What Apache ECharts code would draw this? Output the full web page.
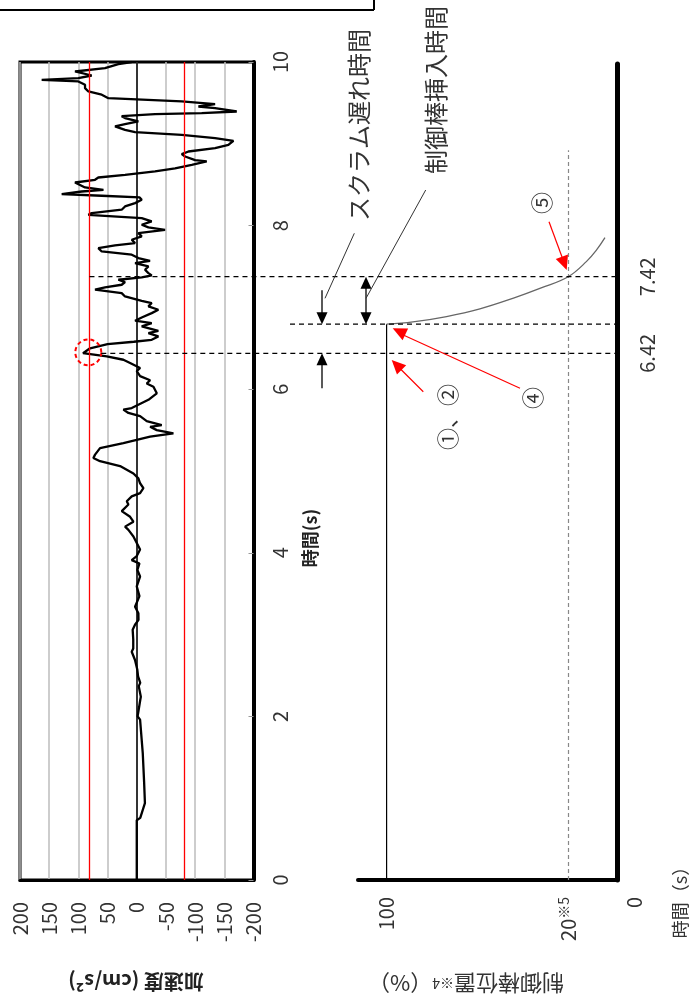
<!DOCTYPE html>
<html><head><meta charset="utf-8">
<script src="https://cdn.jsdelivr.net/npm/echarts@6/dist/echarts.min.js"></script>
<style>html,body{margin:0;padding:0;background:#fff}#c{width:693px;height:999px}</style>
</head><body><div id="c"></div>
<script>
// ---- data ----
// acceleration record: [time (s), acceleration (cm/s2)]
const accelPoints = [[0,0],[0.73,0],[0.76,-6],[0.94,-14],[1.2,-12.6],[1.55,-10.3],[1.96,-5.7],[2.0,-1.5],[2.2,-6],[2.24,-7],[2.37,-3.4],[2.41,-6],[2.49,-2.3],[2.57,-1],[2.69,3],[2.79,8.6],[2.83,6],[2.94,6],[3.06,7],[3.12,3],[3.18,-3],[3.26,-2.8],[3.34,2.9],[3.47,-4.6],[3.59,0],[3.71,-5.7],[3.79,-1.1],[3.87,-4.6],[3.91,8.6],[3.96,0],[4.04,-5.7],[4.12,0],[4.2,5.7],[4.28,14.3],[4.32,20],[4.38,5.7],[4.44,11.4],[4.51,25.7],[4.59,14.3],[4.63,17.1],[4.69,8.6],[4.73,-5.7],[4.79,-11.4],[4.85,-5.7],[4.91,-2.8],[4.97,5.7],[5.06,28.6],[5.12,62.9],[5.16,74.3],[5.2,71.4],[5.28,62.9],[5.34,22.9],[5.42,-22.9],[5.46,-62.8],[5.5,-34.3],[5.54,-22.9],[5.56,-42.8],[5.61,-17.1],[5.67,-5.7],[5.71,14.3],[5.75,22.9],[5.77,8.6],[5.87,-20],[5.95,-34.3],[6.03,-28.6],[6.07,-17.1],[6.11,-22.9],[6.16,-5.7],[6.22,0],[6.26,-5.7],[6.32,11.4],[6.36,22.9],[6.4,51.4],[6.44,92],[6.5,80],[6.55,50],[6.58,5],[6.604,-25.6],[6.645,-37],[6.686,-20],[6.714,-37],[6.767,-8.5],[6.808,-25.6],[6.837,2.9],[6.877,-8.5],[6.93,-25.6],[6.971,-37],[7.012,-20],[7.053,-25.6],[7.081,-8.5],[7.134,20.1],[7.175,25.8],[7.216,71.5],[7.244,54.4],[7.277,25.8],[7.31,20.1],[7.338,31.5],[7.366,-8.5],[7.391,-25.6],[7.419,-20],[7.46,-14.2],[7.501,-20],[7.542,2.9],[7.57,-22.8],[7.603,-2.8],[7.644,8.6],[7.684,60],[7.725,65.8],[7.758,37.2],[7.786,2.9],[7.827,8.6],[7.868,-8.5],[7.908,-2.8],[7.949,-48.5],[7.978,-20],[8.01,-8.5],[8.051,-25.6],[8.092,-8.5],[8.132,82.9],[8.153,77.2],[8.194,25.8],[8.234,20.1],[8.275,2.9],[8.316,-8.5],[8.345,-5],[8.365,60],[8.385,128.6],[8.417,94.3],[8.438,57],[8.466,88.6],[8.527,105.8],[8.56,71.5],[8.588,65.8],[8.621,20.1],[8.662,-31.3],[8.7,-65.6],[8.743,-94.2],[8.784,-119.9],[8.8,-100],[8.845,-82.8],[8.874,-77.1],[8.906,-88.5],[8.947,-134.2],[8.988,-157],[9.037,-165.6],[9.07,-134.2],[9.11,-77.1],[9.143,2.9],[9.17,20.1],[9.212,37.2],[9.24,20.1],[9.273,-2.8],[9.314,20.1],[9.338,25.8],[9.363,-31.3],[9.375,-111.3],[9.395,-171.3],[9.436,-134.2],[9.456,-105.6],[9.485,-134.2],[9.518,-77.1],[9.558,48.6],[9.6,60],[9.64,82.9],[9.68,88.6],[9.721,88.6],[9.762,100],[9.782,162.9],[9.803,100],[9.835,77.2],[9.884,105.8],[9.925,54.4],[9.974,31.5],[10,8.6]];
const accelThresholds = [81, -81];
const accelCircle = [83, 6.45];          // [acc, time] circled peak
// control rod position curve
const rodCurveTime = [6.80, 6.83, 6.90, 7.00, 7.14, 7.27, 7.42, 7.62, 7.77, 7.93];
const rodCurvePos  = [100, 88.4, 73.6, 58.9, 44.1, 32.2, 20, 11.9, 7.5, 3.8];
const rodPosTicks  = [0, 20, 100];
const rodTimeTicks = [6.42, 7.42];
const eventTimes   = [6.42, 6.80, 7.42];  // scram signal, insertion start, 20% reached
const rodGuidePos  = 20;
const rodGuideTop  = 9.07;
const rodTimeMin = -0.456, rodTimeMax = 10.197;

const FONT = "'Noto Sans CJK JP','Noto Sans',sans-serif";
const chart = echarts.init(document.getElementById('c'));
const lbl = {fontSize:20, color:'#333', fontFamily:FONT};

chart.setOption({
  animation:false,
  backgroundColor:'#fff',
  textStyle:{fontFamily:FONT},
  grid:[
    {left:20, top:62, width:233.5, height:818, show:true, borderColor:'#000', borderWidth:3},
    {left:358, top:64, width:259, height:816, show:false}
  ],
  xAxis:[
    {gridIndex:0, type:'value', min:-200, max:200, interval:50, inverse:true, position:'bottom',
     axisLine:{show:true, onZero:false, lineStyle:{color:'#000', width:3}},
     axisTick:{show:false},
     axisLabel:Object.assign({rotate:90, margin:22}, lbl),
     splitLine:{show:true, lineStyle:{color:'#bdbdbd', width:1.5}}},
    {gridIndex:1, type:'value', min:-1.5, max:112.6, inverse:true, position:'bottom',
     axisLine:{show:true, onZero:false, lineStyle:{color:'#000', width:4}},
     axisTick:{show:false}, splitLine:{show:false},
     axisLabel:Object.assign({rotate:90, margin:17, customValues:rodPosTicks,
       formatter:v => v===20 ? '{n|20}{s|※5}' : (v===0 ? '{z|0}' : '{n|'+v+'}'),
       rich:{n:{fontSize:20,color:'#333'}, s:{fontSize:14,color:'#333',padding:[0,0,10,0]}, z:{fontSize:20,color:'#333',padding:[42,0,0,0]}}
     }, lbl)}
  ],
  yAxis:[
    {gridIndex:0, type:'value', min:0, max:10, interval:2, position:'right',
     axisLine:{show:true, onZero:false, lineStyle:{color:'#000', width:4}},
     axisTick:{show:true, inside:true, length:5, lineStyle:{color:'#999'}},
     axisLabel:Object.assign({rotate:90, margin:17}, lbl),
     splitLine:{show:false}},
    {gridIndex:1, type:'value', min:rodTimeMin, max:rodTimeMax, position:'right',
     axisLine:{show:true, onZero:false, lineStyle:{color:'#000', width:5}},
     axisTick:{show:false}, splitLine:{show:false},
     axisLabel:Object.assign({rotate:90, margin:20, customValues:rodTimeTicks, formatter:v=>v.toFixed(2)}, lbl)}
  ],
  series:[
    {type:'line', xAxisIndex:0, yAxisIndex:0, z:2, data:[[0,0]], symbol:'none', lineStyle:{width:0},
     markLine:{silent:true, symbol:['none','none'], label:{show:false},
       data:[
         {xAxis:accelThresholds[0], lineStyle:{color:'#ff0000', width:1.3, type:'solid'}},
         {xAxis:accelThresholds[1], lineStyle:{color:'#ff0000', width:1.3, type:'solid'}},
         {xAxis:0, lineStyle:{color:'#000', width:1.5, type:'solid'}}
       ]}},
    {type:'line', xAxisIndex:0, yAxisIndex:0, z:3, symbol:'none',
     data:accelPoints.map(p=>[p[1], p[0]]), lineStyle:{color:'#000', width:2.3}},
    {type:'line', xAxisIndex:1, yAxisIndex:1, symbol:'none',
     data:[[rodCurvePos[0], rodTimeMin],[rodCurvePos[0], eventTimes[1]]], lineStyle:{color:'#000', width:1.2}},
    {type:'line', xAxisIndex:1, yAxisIndex:1, symbol:'none', smooth:0.4,
     data:rodCurvePos.map((p,i)=>[p, rodCurveTime[i]]), lineStyle:{color:'#666', width:1.3},
     markLine:{silent:true, symbol:['none','none'], label:{show:false},
       lineStyle:{color:'#888', width:1.2, type:[4,3]},
       data:[[{coord:[rodGuidePos, rodTimeMin]},{coord:[rodGuidePos, rodGuideTop]}]]}}
  ]
});

// ---- annotations ----
const xA = a => chart.convertToPixel({xAxisIndex:0}, a);
const yA = t => chart.convertToPixel({yAxisIndex:0}, t);
const xR = p => chart.convertToPixel({xAxisIndex:1}, p);
const yR = t => chart.convertToPixel({yAxisIndex:1}, t);

function head(tx, ty, fx, fy, len, half, color){
  const dx = tx-fx, dy = ty-fy, L = Math.hypot(dx,dy), ux = dx/L, uy = dy/L;
  const bx = tx-ux*len, by = ty-uy*len;
  return {type:'polygon', shape:{points:[[tx,ty],[bx-uy*half, by+ux*half],[bx+uy*half, by-ux*half]]}, style:{fill:color}, z:10};
}
function seg(x1,y1,x2,y2,color,w,dash){
  return {type:'line', shape:{x1,y1,x2,y2}, style:{stroke:color, lineWidth:w, lineDash:dash||null}, z:10};
}
function txt(x,y,text,size,rot,extra){
  return {type:'text', x, y, rotation:rot, z:11,
    style:Object.assign({text, fontSize:size, fontFamily:FONT, fill:'#333', align:'center', verticalAlign:'middle'}, extra||{})};
}
const R90 = Math.PI/2;
const y1 = yR(eventTimes[0]), y2 = yR(eventTimes[1]), y3 = yR(eventTimes[2]);
const xEnd = xR(-1.5) - 2;
const cx = xA(accelCircle[0]), cy = yA(accelCircle[1]);
const g = [];
// top frame fragment
g.push(seg(0,10,374,10,'#000',2), seg(374,0,374,10,'#000',2));
// circled peak
g.push({type:'circle', shape:{cx, cy, r:13}, style:{fill:'none', stroke:'#ff0000', lineWidth:2, lineDash:[4,3]}, z:10});
// event dashed lines
g.push(seg(cx+13, y1, xEnd, y1, '#000', 1.2, [5,4]));
g.push(seg(290, y2, xEnd, y2, '#000', 1.2, [5,4]));
g.push(seg(xA(accelThresholds[0]), y3, xEnd, y3, '#000', 1.2, [5,4]));
// black dimension arrows
g.push(seg(322, y1+35, 322, y1+8, '#000', 1.3), head(322, y1, 322, y1+20, 12, 5.5, '#000'));
g.push(seg(322, y2-34, 322, y2-8, '#000', 1.3), head(322, y2, 322, y2-20, 12, 5.5, '#000'));
g.push(seg(366, y3+8, 366, y2-8, '#000', 1.3), head(366, y3, 366, y3+20, 12, 5.5, '#000'), head(366, y2, 366, y2-20, 12, 5.5, '#000'));
// leader lines
g.push(seg(354.3,233.3,325,298.3,'#333',1), seg(425.7,190,366,298.3,'#333',1));
// red arrows
const red = '#ff0000';
g.push(seg(423.3,391.7,398,366.5,red,1.2), head(391.7,360,423.3,391.7,14,6.5,red));
g.push(seg(520,388.3,400,333.5,red,1.2), head(392.7,328.3,520,388.3,14,6.5,red));
g.push(seg(549,221.7,563.5,261,red,1.2), head(566.7,270,549,221.7,14,6.5,red));
// labels
g.push(txt(359,125,'スクラム遅れ時間',24,R90));
g.push(txt(436,90,'制御棒挿入時間',24,R90));
g.push(txt(542,203,'⑤',22,R90));
g.push(txt(533,398,'④',22,R90));
g.push(txt(448,417,'①、②',22,R90));
g.push(txt(310,538,'時間(s)',18,R90,{fontWeight:'bold', fill:'#222'}));
g.push(txt(680,898,'時間（s）',18,R90));
g.push(txt(136,982,'加速度 (cm/s²)',20,Math.PI,{fontWeight:'bold', fill:'#222'}));
g.push({type:'text', x:466, y:983, rotation:Math.PI, z:11,
  style:{text:'{a|制御棒位置}{b|※4}{a|（%）}', align:'center', verticalAlign:'middle', fontFamily:FONT, fill:'#333',
    rich:{a:{fontSize:22, fontFamily:FONT, fill:'#333'}, b:{fontSize:14, fontFamily:FONT, fill:'#333'}}}});
chart.setOption({graphic:g});
</script></body></html>
